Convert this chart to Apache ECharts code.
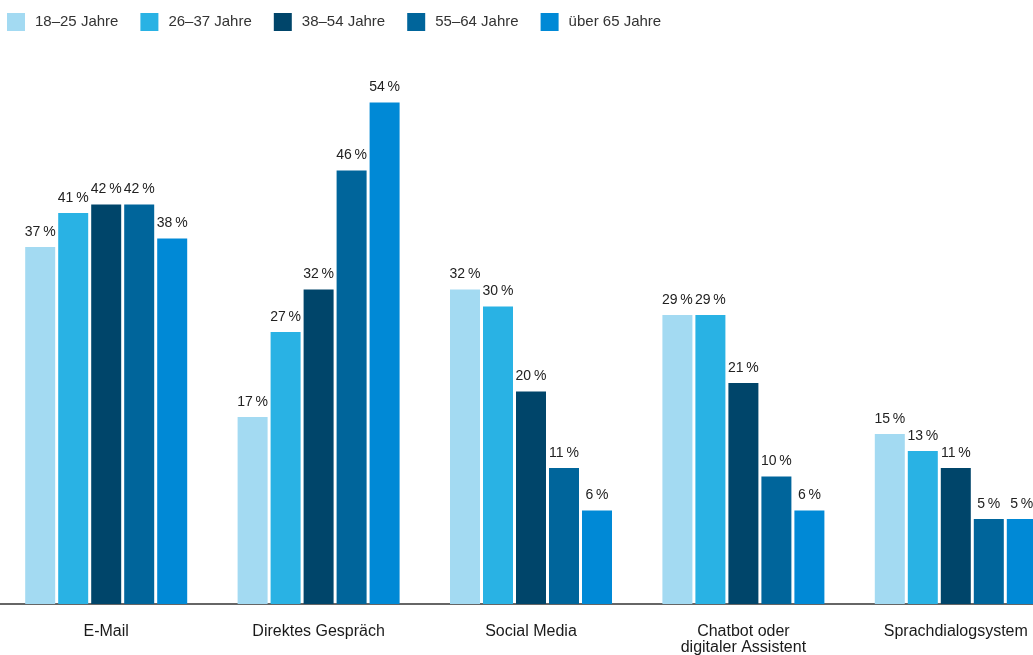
<!DOCTYPE html>
<html>
<head>
<meta charset="utf-8">
<script src="https://cdn.jsdelivr.net/npm/echarts@6/dist/echarts.min.js"></script>
<style>
  html, body { margin: 0; padding: 0; background: #fff; }
  #chart { width: 1033px; height: 655px; }
</style>
</head>
<body>
<div id="chart"></div>
<script>
// Kanäle (Kategorien der x-Achse)
const categories = ['E-Mail', 'Direktes Gespräch', 'Social Media', 'Chatbot oder\ndigitaler Assistent', 'Sprachdialogsystem'];

// Altersgruppen (Legende)
const ageGroups = ['18–25 Jahre', '26–37 Jahre', '38–54 Jahre', '55–64 Jahre', 'über 65 Jahre'];

// Anteile in Prozent je Altersgruppe
const age18to25 = [37, 17, 32, 29, 15];
const age26to37 = [41, 27, 30, 29, 13];
const age38to54 = [42, 32, 20, 21, 11];
const age55to64 = [42, 46, 11, 10, 5];
const age65plus = [38, 54, 6, 6, 5];

const seriesValues = [age18to25, age26to37, age38to54, age55to64, age65plus];
const colors = ['#a3daf2', '#29b2e4', '#00456a', '#00659b', '#0089d6'];

const fontFamily = '"Liberation Sans", Arial, sans-serif';

const chart = echarts.init(document.getElementById('chart'), null, { renderer: 'canvas' });

chart.setOption({
  animation: false,
  backgroundColor: '#ffffff',
  color: colors,
  legend: {
    left: 7,
    top: 13,
    padding: 0,
    itemWidth: 18,
    itemHeight: 18,
    itemGap: 22,
    icon: 'rect',
    textStyle: {
      fontFamily: fontFamily,
      fontSize: 15,
      color: '#333',
      padding: [0, 0, 0, 5]
    },
    data: ageGroups
  },
  grid: {
    left: 0,
    right: -29,
    top: 94,
    bottom: 51,
    outerBoundsMode: 'none',
    containLabel: false
  },
  xAxis: {
    type: 'category',
    data: categories,
    axisTick: { show: false },
    axisLine: { show: true, onZero: false, lineStyle: { color: '#333', width: 1.5 } },
    axisLabel: {
      fontFamily: fontFamily,
      fontSize: 16,
      lineHeight: 16,
      color: '#1a1a1a',
      margin: 20,
      verticalAlign: 'top',
      interval: 0
    }
  },
  yAxis: {
    type: 'value',
    min: -5,
    max: 55,
    startValue: -5,
    show: false,
    splitLine: { show: false }
  },
  series: seriesValues.map((values, i) => ({
    name: ageGroups[i],
    type: 'bar',
    data: values,
    barWidth: 30,
    barGap: '10%',
    itemStyle: { color: colors[i] },
    label: {
      show: true,
      position: 'top',
      distance: 8,
      fontFamily: fontFamily,
      fontSize: 14,
      color: '#222',
      formatter: p => p.value + '\u2009%'
    }
  }))
});
</script>
</body>
</html>
